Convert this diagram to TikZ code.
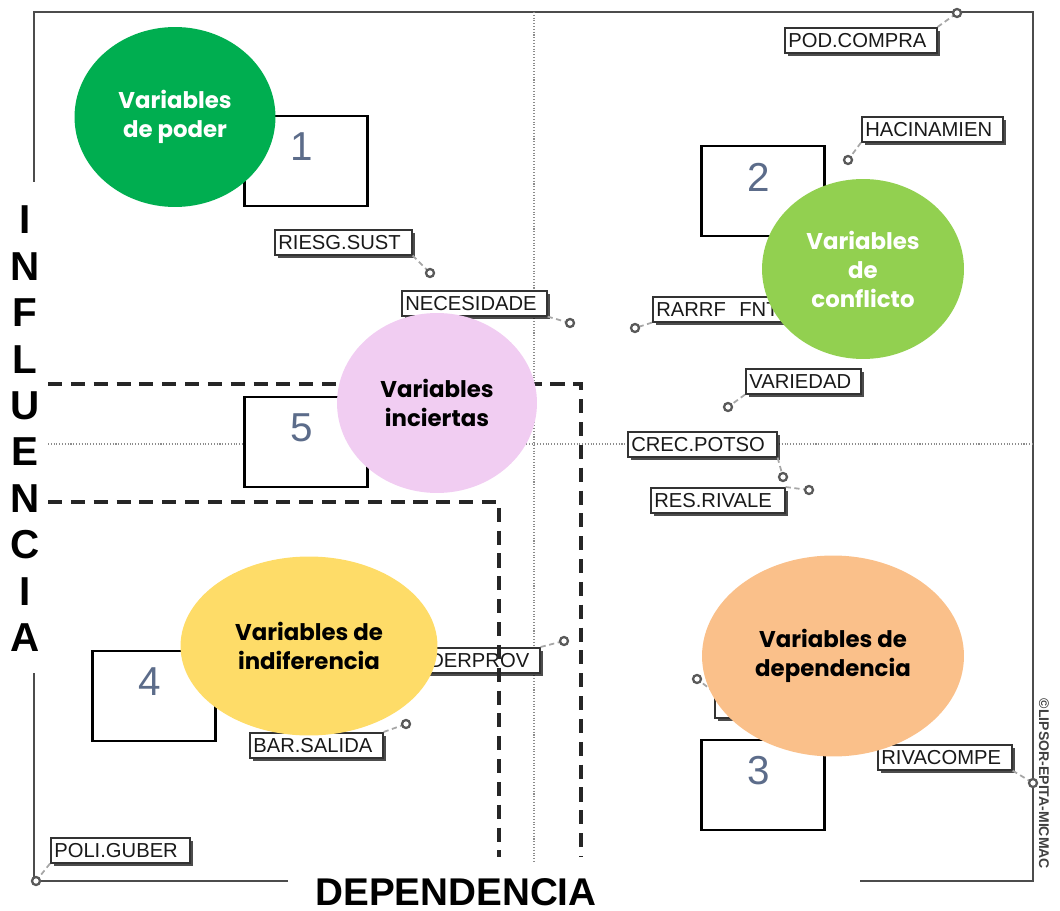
\documentclass[tikz,border=0pt]{standalone}
\usepackage{fontspec}
\setmainfont{Liberation Sans}
\newfontfamily\bubblefont{Poppins}
\usetikzlibrary{shapes.geometric,shadows}

\definecolor{poder}{RGB}{0,174,80}
\definecolor{conflicto}{RGB}{146,208,80}
\definecolor{inciertas}{RGB}{241,205,242}
\definecolor{indiferencia}{RGB}{254,220,104}
\definecolor{dependencia}{RGB}{250,192,138}
\definecolor{numgray}{RGB}{92,108,138}

\tikzset{
  quadframe/.style={draw=black!70, line width=1.1pt},
  midaxis/.style={draw=black!45, line width=0.6pt, densely dotted},
  zoneline/.style={draw=black!85, line width=1.8pt, dash pattern=on 8pt off 5pt},
  quadbox/.style={draw=black, line width=1.2pt, fill=white, minimum width=2.46cm, minimum height=1.8cm, inner sep=0pt},
  quadnum/.style={text=numgray, font=\fontsize{23}{25}\selectfont, inner sep=0pt},
  varbox/.style={draw=black!80, line width=0.9pt, fill=white, anchor=north west,
    minimum height=0.5cm, inner ysep=0pt, inner xsep=2pt, align=left, text width=#1,
    font=\fontsize{11.5}{12}\selectfont, text=black!90,
    drop shadow={shadow xshift=1.8pt, shadow yshift=-1.8pt, fill=black, opacity=0.7}},
  knob/.style={circle, draw=black!65, line width=1.3pt, fill=white, minimum size=0.16cm, inner sep=0pt},
  lead/.style={draw=black!35, line width=1pt, densely dashed},
  bubble/.style={ellipse, inner sep=0pt, align=center, font=\bubblefont\bfseries\fontsize{13}{16.5}\selectfont},
  axtitle/.style={font=\bfseries\fontsize{23}{24}\selectfont, inner sep=0pt}
}

\begin{document}
\begin{tikzpicture}[x=0.02cm, y=-0.02cm]
  \useasboundingbox (0,0) rectangle (1060,911);

  % frame and axes
  \draw[quadframe] (34,182) -- (34,12) -- (1033,12) -- (1033,881) -- (860,881);
  \draw[quadframe] (288,881) -- (34,881) -- (34,673);
  \draw[midaxis] (534,12) -- (534,862);
  \draw[midaxis] (48,444) -- (1033,444);

  % quadrant boxes
  \node[quadbox] (b1) at (306,161) {};
  \node[quadbox] (b2) at (763,191) {};
  \node[quadbox] (b5) at (306,442) {};
  \node[quadbox] (b4) at (154,696) {};
  \node[quadbox] (b3) at (763,785) {};
  \node[quadnum] (n1) at ([xshift=-0.08cm,yshift=-0.64cm]b1.north) {1};
  \node[quadnum] (n2) at ([xshift=-0.08cm,yshift=-0.64cm]b2.north) {2};
  \node[quadnum] (n5) at ([xshift=-0.08cm,yshift=-0.64cm]b5.north) {5};
  \node[quadnum] (n4) at ([xshift=-0.08cm,yshift=-0.64cm]b4.north) {4};
  \node[quadnum] (n3) at ([xshift=-0.08cm,yshift=-0.64cm]b3.north) {3};

  % variables
  \node[varbox=2.90cm] (pod) at (784,27) {POD.COMPRA};
  \node[varbox=2.68cm] (hac) at (861,116) {HACINAMIEN};
  \node[varbox=2.60cm] (ries) at (274,229) {RIESG.SUST};
  \node[varbox=2.76cm] (nec) at (401,290) {NECESIDADE};
  \node[varbox=2.66cm] (rarrf) at (652,296) {RARRF\ \ FNT};
  \node[varbox=2.16cm] (var) at (745,368) {VARIEDAD};
  \node[varbox=2.84cm] (crec) at (627,431) {CREC.POTSO};
  \node[varbox=2.54cm] (res) at (650,487) {RES.RIVALE};
  \node[varbox=2.14cm] (derp) at (425,647) {DERPROV};
  \node[varbox=2.52cm] (bar) at (249,732) {BAR.SALIDA};
  \node[varbox=2.64cm] (poli) at (50,837) {POLI.GUBER};
  \node[varbox=2.54cm] (riva) at (877,744) {RIVACOMPE};
  \node[varbox=1.58cm] (hid) at (714,692) {};

  \coordinate (kpod) at (957,13);
  \coordinate (khac) at (848,160);
  \coordinate (kries) at (430,273);
  \coordinate (knec) at (570,323);
  \coordinate (krarrf) at (635,328);
  \coordinate (kvar) at (728,407);
  \coordinate (kcrec) at (783,477);
  \coordinate (kres) at (809,490);
  \coordinate (kderp) at (564,641);
  \coordinate (kbar) at (406,724);
  \coordinate (kpoli) at (36,881);
  \coordinate (kriva) at (1033,783);
  \coordinate (khid) at (697,679);

  \draw[lead] (pod.north east) -- (kpod);
  \draw[lead] (hac.south west) -- (khac);
  \draw[lead] (ries.south east) -- (kries);
  \draw[lead] (nec.south east) -- (knec);
  \draw[lead] (rarrf.south west) -- (krarrf);
  \draw[lead] (var.south west) -- (kvar);
  \draw[lead] (crec.south east) -- (kcrec);
  \draw[lead] (res.north east) -- (kres);
  \draw[lead] (derp.north east) -- (kderp);
  \draw[lead] (bar.north east) -- (kbar);
  \draw[lead] (poli.south west) -- (kpoli);
  \draw[lead] (riva.south east) -- (kriva);
  \draw[lead] (hid.north west) -- (khid);
  \foreach \k in {kpod,khac,kries,knec,krarrf,kvar,kcrec,kres,kderp,kbar,kpoli,kriva,khid}
    \node[knob] at (\k) {};

  % zones
  \draw[zoneline] (48,384) -- (581,384) -- (581,857);
  \draw[zoneline] (48,502) -- (499,502) -- (499,857);

  % groups
  \node[bubble, fill=poder, text=white, minimum width=4.02cm, minimum height=3.6cm] (poder) at (175,117) {Variables\\de poder};
  \node[bubble, fill=conflicto, text=white, minimum width=4.04cm, minimum height=3.6cm] (confl) at (863,269) {Variables\\de\\conflicto};
  \node[bubble, fill=inciertas, minimum width=4.0cm, minimum height=3.6cm] (incier) at (437,403) {Variables\\inciertas};
  \node[bubble, fill=indiferencia, minimum width=5.14cm, minimum height=3.58cm] (indif) at (309,646) {Variables de\\indiferencia};
  \node[bubble, fill=dependencia, minimum width=5.24cm, minimum height=4.02cm] (depend) at (833,656) {Variables de\\dependencia};

  % axis titles
  \foreach \ch [count=\i from 0] in {I,N,F,L,U,E,N,C,I,A}
    \node[axtitle] (inf\i) at (25,{220+46.4*\i}) {\ch};
  \node[axtitle, font=\bfseries\fontsize{22}{23}\selectfont] (dep) at (456,892) {DEPENDENCIA};
  \node[rotate=-90, font=\bfseries\fontsize{8}{9}\selectfont, text=black!75, inner sep=0pt] (copy) at (1044,784) {©LIPSOR-EPITA-MICMAC};
\end{tikzpicture}
\end{document}
